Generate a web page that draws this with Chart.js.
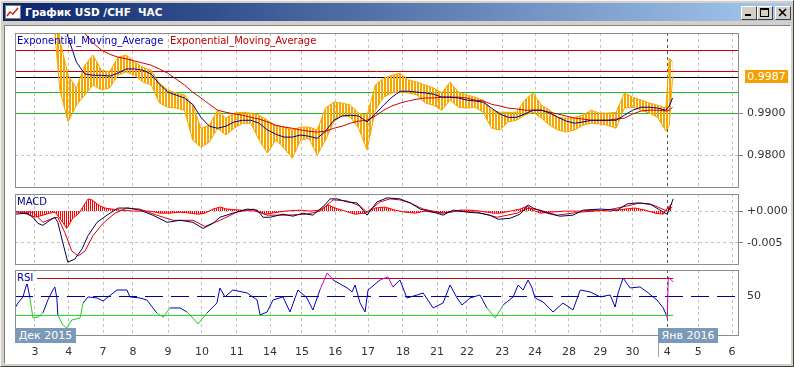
<!DOCTYPE html>
<html><head><meta charset="utf-8">
<script src="https://cdn.jsdelivr.net/npm/chart.js@4.4.1/dist/chart.umd.min.js"></script>
<style>
html,body{margin:0;padding:0}
body{width:794px;height:367px;position:relative;overflow:hidden;background:#d4d0c8;font-family:'DejaVu Sans',sans-serif}
.abs{position:absolute}
#frame{left:0;top:0;width:792px;height:365px;border:1px solid;border-color:#f4f4f4 #404040 #404040 #f4f4f4}
#titlebar{left:3px;top:3px;width:788px;height:18px;background:linear-gradient(to right,#0a246a,#a6caf0)}
#titletext{left:22px;top:3px;color:#fff;font-weight:bold;font-size:10.5px;line-height:12px;white-space:pre}
#client{left:4px;top:25px;width:785px;height:337px;background:#fff;border:1px solid;border-color:#808080 #fff #fff #808080}
canvas{position:absolute;left:0}
.lbl{position:absolute;font-size:10px;line-height:12px;white-space:pre}
.datebox{position:absolute;height:15px;line-height:15px;background:#7b99b9;color:#fff;font-size:11px;text-align:center}
.btn{position:absolute;top:6px;width:14px;height:12px;background:#d4d0c8;border:1px solid;border-color:#fff #404040 #404040 #fff}
</style></head>
<body>
<div id="frame" class="abs"></div>
<div id="titlebar" class="abs">
  <svg class="abs" style="left:2px;top:2px" width="16" height="14"><rect x="0.5" y="0.5" width="15" height="13" fill="#fff" stroke="#808080"/><polyline points="2,11 5,7 8,9 13,3" fill="none" stroke="#d02020" stroke-width="1.5"/></svg>
  <div id="titletext" class="abs">График USD /CHF  ЧАС</div>
</div>
<div class="btn" style="left:741px"><div class="abs" style="left:3px;top:7px;width:6px;height:2px;background:#000"></div></div>
<div class="btn" style="left:757px"><div class="abs" style="left:2px;top:1px;width:7px;height:6px;border:1px solid #000;border-top-width:2px"></div></div>
<div class="btn" style="left:775px"><svg class="abs" style="left:2px;top:1px" width="10" height="9"><path d="M1,1 L8,8 M8,1 L1,8" stroke="#000" stroke-width="1.6"/></svg></div>
<div id="client" class="abs"></div>

<canvas id="cPrice" width="794" height="155" style="top:33px"></canvas>
<canvas id="cMacd" width="794" height="71" style="top:194px"></canvas>
<canvas id="cRsi" width="794" height="92" style="top:270px"></canvas>

<div class="lbl" style="left:17px;top:35px;color:#0000c0">Exponential_Moving_Average</div>
<div class="lbl" style="left:170px;top:35px;color:#c00000">Exponential_Moving_Average</div>
<div class="lbl" style="left:17px;top:196px;color:#000080">MACD</div>
<div class="lbl" style="left:16px;top:272px;color:#0000a0;background:#fff;padding:0 4px 0 1px">RSI</div>
<div class="datebox" style="left:15px;top:328px;width:61px">Дек 2015</div>
<div class="datebox" style="left:658px;top:328px;width:60px">Янв 2016</div>
<div class="abs" style="left:658px;top:343px;width:1px;height:14px;background:#a0a0a0"></div>
<div id="priceLabel" class="abs" style="left:745px;top:70px;width:43px;height:13px;line-height:13px;background:#f5a000;color:#fff;font-size:11px;text-align:center"></div>

<script>
// ---------- axis data ----------
const dayTicks  = [0, 1.02, 2.05, 2.95, 4.01, 5.03, 6.08, 7.08, 8.04, 9.04, 10.03, 11.08, 12.11, 13.01, 14.07, 15.06, 16.08, 17.02, 17.99, 19.04, 19.97, 20.99];
const dayLabels = ['3','4','7','8','9','10','11','14','15','16','17','18','21','22','23','24','28','29','30','4','5','6'];
const markDay = 19.04;
const X_MIN = -0.6, X_MAX = 21.17;

const priceTicks = [0.9800, 0.9900];
const macdTicks = [0, -0.005];
const rsiTicks = [50];
const lastPrice = 0.9987;
const priceLevels = [1.0050, 1.0000, lastPrice, 0.9950, 0.9900];
const rsiHigh = 70, rsiMid = 50, rsiLow = 30;

// ---------- price (hourly bars summarised every 6h) ----------
const priceX = [-0.75,-0.5,-0.25,0,0.25,0.5,0.75,1,1.25,1.5,1.75,2,2.25,2.5,2.75,3,3.25,3.5,3.75,4,4.25,4.5,4.75,5,5.25,5.5,5.75,6,6.25,6.5,6.75,7,7.25,7.5,7.75,8,8.25,8.5,8.75,9,9.25,9.5,9.75,10,10.25,10.5,10.75,11,11.25,11.5,11.75,12,12.25,12.5,12.75,13,13.25,13.5,13.75,14,14.25,14.5,14.75,15,15.25,15.5,15.75,16,16.25,16.5,16.75,17,17.25,17.5,17.75,18,18.25,18.5,18.75,19,19.1,19.2];
const priceHigh = [1.0285,1.0290,1.0300,1.0295,1.0290,1.0280,1.0074,0.9990,0.9960,1.0014,
  1.0038,1.0002,0.9998,1.0033,1.0038,1.0021,1.0009,1.0002,0.9971,0.9955,
  0.9948,0.9943,0.9919,0.9864,0.9871,0.9907,0.9888,0.9900,0.9902,0.9900,
  0.9895,0.9883,0.9871,0.9867,0.9860,0.9867,0.9867,0.9860,0.9912,0.9926,
  0.9924,0.9919,0.9900,0.9895,0.9967,0.9983,0.9990,0.9995,0.9979,0.9974,
  0.9967,0.9960,0.9948,0.9974,0.9950,0.9943,0.9938,0.9931,0.9907,0.9902,
  0.9902,0.9902,0.9931,0.9948,0.9919,0.9907,0.9890,0.9888,0.9890,0.9895,
  0.9907,0.9900,0.9900,0.9902,0.9948,0.9938,0.9931,0.9924,0.9919,0.9912,
  1.0031,1.0021];
const priceLow = [1.0265,1.0270,1.0275,1.0270,1.0265,1.0180,0.9955,0.9879,0.9919,0.9943,
  0.9967,0.9955,0.9960,0.9990,0.9998,0.9990,0.9974,0.9967,0.9924,0.9914,
  0.9912,0.9907,0.9836,0.9819,0.9831,0.9864,0.9848,0.9864,0.9876,0.9876,
  0.9836,0.9805,0.9836,0.9817,0.9793,0.9836,0.9840,0.9800,0.9836,0.9879,
  0.9895,0.9890,0.9864,0.9812,0.9907,0.9938,0.9948,0.9950,0.9948,0.9943,
  0.9924,0.9919,0.9907,0.9931,0.9914,0.9912,0.9914,0.9902,0.9864,0.9860,
  0.9879,0.9883,0.9895,0.9902,0.9888,0.9871,0.9860,0.9855,0.9860,0.9871,
  0.9876,0.9874,0.9871,0.9864,0.9912,0.9914,0.9907,0.9900,0.9890,0.9857,
  0.9871,0.9986];
const emaFast = [1.0270,1.0272,1.0276,1.0278,1.0276,1.0245,1.0150,1.0080,1.0021,0.9993,
  0.9990,0.9990,0.9988,0.9995,1.0005,1.0005,1.0002,0.9993,0.9969,0.9950,
  0.9943,0.9936,0.9921,0.9890,0.9869,0.9864,0.9869,0.9879,0.9883,0.9883,
  0.9876,0.9860,0.9850,0.9843,0.9843,0.9848,0.9845,0.9840,0.9857,0.9883,
  0.9893,0.9895,0.9893,0.9879,0.9898,0.9919,0.9938,0.9952,0.9952,0.9950,
  0.9948,0.9945,0.9938,0.9938,0.9936,0.9931,0.9929,0.9926,0.9912,0.9898,
  0.9890,0.9890,0.9898,0.9907,0.9907,0.9900,0.9890,0.9881,0.9876,0.9879,
  0.9883,0.9883,0.9883,0.9883,0.9895,0.9907,0.9914,0.9914,0.9912,0.9907,
  0.9917,0.9936];
const emaSlow = [1.0265,1.0268,1.0270,1.0272,1.0270,1.0255,1.0200,1.0150,1.0115,1.0090,
  1.0067,1.0050,1.0040,1.0033,1.0029,1.0024,1.0019,1.0014,1.0005,0.9995,
  0.9981,0.9967,0.9950,0.9936,0.9921,0.9907,0.9902,0.9898,0.9895,0.9890,
  0.9886,0.9879,0.9871,0.9867,0.9864,0.9860,0.9857,0.9855,0.9857,0.9864,
  0.9869,0.9876,0.9881,0.9883,0.9893,0.9907,0.9917,0.9924,0.9929,0.9933,
  0.9936,0.9936,0.9938,0.9938,0.9938,0.9936,0.9931,0.9929,0.9921,0.9917,
  0.9912,0.9910,0.9907,0.9907,0.9907,0.9902,0.9898,0.9893,0.9888,0.9886,
  0.9883,0.9883,0.9883,0.9886,0.9888,0.9898,0.9905,0.9907,0.9907,0.9905,
  0.9907,0.9914];

// ---------- MACD ----------
const macdX = [-0.60,-0.24,-0.06,0.09,0.24,0.45,0.60,0.69,0.84,0.99,1.20,1.42,1.60,1.87,2.17,2.50,2.80,3.16,3.55,3.98,4.37,4.76,5.06,5.36,5.57,5.96,6.39,6.69,6.87,7.08,7.47,7.77,8.07,8.37,8.73,8.89,9.10,9.40,9.70,10.00,10.30,10.60,10.99,11.30,11.60,12.11,12.29,12.59,13.01,13.40,13.70,13.95,14.31,14.61,14.85,15.00,15.42,15.81,16.20,16.51,17.02,17.53,17.83,18.13,18.52,18.92,19.04,19.22];
const macdMain = [-0.00048,-0.00032,-0.00097,-0.00193,-0.00225,-0.00145,-0.00097,-0.00177,-0.00499,-0.00805,
  -0.00757,-0.00596,-0.00386,-0.00177,-0.00064,0.00048,0.00048,0.00016,-0.00064,-0.00177,
  -0.00145,-0.00177,-0.00274,-0.00193,-0.00097,-0.00032,0.00032,0.00016,-0.00097,-0.00097,
  -0.00048,-0.00080,-0.00032,-0.00064,0.00097,0.00193,0.00193,0.00145,0.00129,-0.00064,
  0.00145,0.00209,0.00193,0.00129,0.00032,-0.00032,-0.00064,0.00016,-0.00016,-0.00032,
  -0.00064,-0.00129,-0.00113,-0.00048,0.00097,0.00048,-0.00032,-0.00080,-0.00064,0.00016,
  0.00032,0.00016,0.00113,0.00129,0.00113,-0.00016,-0.00048,0.00193];
const sigX = [-0.60,-0.06,0.24,0.54,0.69,0.90,1.11,1.30,1.51,1.75,2.05,2.41,2.77,3.16,3.67,4.16,4.76,5.12,5.57,6.08,6.57,6.99,7.59,8.19,8.58,8.98,9.40,9.79,10.00,10.39,10.69,10.99,11.30,11.69,12.29,12.71,13.31,13.92,14.52,14.85,15.21,15.72,16.42,17.23,17.83,18.22,18.61,19.04,19.19];
const sigVals = [-0.00016,-0.00016,-0.00177,-0.00113,-0.00097,-0.00338,-0.00628,-0.00708,-0.00628,-0.00386,
  -0.00193,-0.00032,0.00048,0.00032,-0.00064,-0.00145,-0.00145,-0.00242,-0.00145,-0.00016,
  0.00032,-0.00064,-0.00064,-0.00048,0,0.00177,0.00161,0.00080,-0.00016,0.00145,
  0.00193,0.00177,0.00129,0.00032,-0.00032,0,-0.00016,-0.00097,-0.00032,0.00048,
  0.00016,-0.00064,-0.00016,0.00016,0.00080,0.00129,0.00097,0,0.00064];
const histX = [-0.60,-0.24,0.00,0.24,0.45,0.60,0.75,0.96,1.14,1.33,1.48,1.60,1.72,1.84,1.96,2.11,2.32,2.56,3.01,3.46,3.77,4.07,4.37,4.67,4.91,5.12,5.36,5.57,5.78,6.17,6.63,6.93,7.14,7.53,7.98,8.28,8.58,8.83,9.04,9.34,9.64,9.94,10.24,10.54,10.84,11.14,11.45,11.75,12.20,12.50,12.80,13.10,13.40,13.80,14.01,14.31,14.61,14.82,15.00,15.21,15.51,15.96,16.42,16.87,17.32,17.77,18.07,18.37,18.67,18.92,19.07,19.19];
const histVals = [0,-0.00048,-0.00096,-0.00064,-0.00032,-0.00016,-0.00112,-0.00272,-0.00112,-0.00032,
  0.00096,0.00192,0.00176,0.00128,0.00080,0.00048,0.00032,0.00016,0,0,
  -0.00032,-0.00032,-0.00016,-0.00032,-0.00048,-0.00032,0.00032,0.00064,0.00032,0.00016,
  0,-0.00048,-0.00032,0,0.00016,0,0.00016,0.00096,0.00048,0,
  -0.00048,-0.00032,0.00048,0.00064,0.00016,-0.00016,-0.00032,0,-0.00032,-0.00016,
  0.00016,0.00016,0,-0.00032,-0.00032,0,0.00032,0.00080,0.00016,-0.00032,
  -0.00016,0,0,0.00016,0,0.00032,0.00048,0.00016,-0.00032,-0.00048,
  0.00064,0.00112];

// ---------- RSI ----------
const rsiX = [-0.60,-0.51,-0.36,-0.24,-0.15,-0.06,0.09,0.24,0.39,0.54,0.60,0.66,0.69,0.84,0.96,1.11,1.36,1.45,1.60,1.87,2.05,2.47,2.77,2.86,3.16,3.37,3.67,3.86,4.07,4.37,4.58,4.73,4.91,5.18,5.48,5.57,5.72,5.96,6.39,6.69,6.78,6.99,7.17,7.47,7.68,7.92,8.19,8.37,8.58,8.80,8.98,9.40,9.55,9.64,9.79,9.94,10.03,10.39,10.63,10.78,10.99,11.20,11.51,11.69,11.99,12.29,12.50,12.71,12.86,13.10,13.40,13.61,13.86,14.10,14.40,14.55,14.70,14.85,14.97,15.06,15.30,15.60,15.90,16.20,16.42,16.72,17.02,17.32,17.47,17.56,17.71,17.92,18.22,18.43,18.73,18.92,19.01,19.04,19.07,19.22];
const rsiVals = [37.6,43.0,49.5,64.6,48.4,26.8,27.8,32.2,46.2,57.0,
  60.3,48.4,30.0,19.2,15.9,24.6,26.8,43.0,49.5,48.4,
  45.1,57.0,57.0,49.5,48.4,46.2,32.2,27.8,37.6,37.6,
  33.2,27.8,20.3,32.2,43.0,59.2,49.5,57.0,53.8,46.2,
  30.0,33.2,46.2,49.5,33.2,57.0,48.4,35.4,57.0,75.4,
  67.8,59.2,54.9,62.4,43.0,33.2,57.0,67.8,71.1,60.3,
  67.8,48.4,51.6,53.8,37.6,43.0,62.4,48.4,40.8,48.4,
  51.6,37.6,26.8,40.8,49.5,62.4,57.0,67.8,59.2,48.4,
  44.1,33.2,43.0,35.4,57.0,54.9,49.5,51.6,38.6,53.8,
  70.0,59.2,60.3,54.9,46.2,37.6,30.0,26.8,71.1,65.7];

// ---------- helpers ----------
const pts = (xs, ys) => xs.map((x, i) => ({ x: x, y: ys[i] }));
Chart.defaults.font.family = "'DejaVu Sans', sans-serif";
Chart.defaults.font.size = 11;
Chart.defaults.color = '#333';

function stripePattern(canvas, color, period, on) {
  const pc = document.createElement('canvas'); pc.width = period; pc.height = 1;
  const p = pc.getContext('2d'); p.fillStyle = color; p.fillRect(0, 0, on, 1);
  return canvas.getContext('2d').createPattern(pc, 'repeat');
}

const levelPlugin = {
  id: 'levels',
  beforeDatasetsDraw(chart, args, opts) {
    const lines = opts && opts.lines;
    if (!lines) return;
    const { ctx, chartArea: a, scales } = chart;
    ctx.save();
    ctx.beginPath(); ctx.rect(a.left, a.top, a.right - a.left, a.bottom - a.top); ctx.clip();
    lines.forEach(l => {
      const y = Math.round(scales.y.getPixelForValue(l.value)) + 0.5;
      const x2 = (l.toX !== undefined) ? scales.x.getPixelForValue(l.toX) : a.right;
      ctx.strokeStyle = l.color; ctx.lineWidth = 1; ctx.setLineDash(l.dash || []);
      ctx.beginPath(); ctx.moveTo(a.left, y); ctx.lineTo(x2, y); ctx.stroke();
    });
    ctx.restore();
  }
};
const framePlugin = {
  id: 'frame',
  afterDraw(chart) {
    const { ctx, chartArea: a } = chart;
    ctx.save(); ctx.strokeStyle = '#8c8c8c'; ctx.lineWidth = 1; ctx.setLineDash([]);
    ctx.strokeRect(a.left + 0.5, a.top + 0.5, a.right - a.left, a.bottom - a.top - 1);
    ctx.restore();
  }
};
Chart.register(levelPlugin, framePlugin);

function xAxis(showLabels) {
  return {
    type: 'linear', min: X_MIN, max: X_MAX,
    afterBuildTicks: s => { s.ticks = dayTicks.map(v => ({ value: v })); },
    ticks: { display: showLabels, autoSkip: false, maxRotation: 0, padding: 10, color: '#333',
             callback: (v, i) => dayLabels[i] },
    grid: { color: c => (c.tick && c.tick.value === markDay) ? '#555' : '#c4c4c4', drawTicks: false },
    border: { display: false, dash: [3, 3] },
    afterFit: s => { s.height = showLabels ? 26 : 0; s.paddingLeft = 0; s.paddingRight = 0; }
  };
}
function yAxis(min, max, tickVals, fmt, gridOn) {
  return {
    position: 'right', min: min, max: max,
    afterBuildTicks: s => { s.ticks = tickVals.map(v => ({ value: v })); },
    ticks: { callback: fmt, color: '#333', padding: 4, autoSkip: false },
    grid: { color: gridOn ? '#c4c4c4' : 'rgba(0,0,0,0)', tickColor: gridOn ? '#808080' : 'rgba(0,0,0,0)',
            tickLength: 5, drawTicks: true, tickBorderDash: [] },
    border: { display: false, dash: [3, 3] },
    afterFit: s => { s.width = 56; s.paddingTop = 0; s.paddingBottom = 0; }
  };
}
function baseOptions(scales, levels) {
  return {
    responsive: false, animation: false, devicePixelRatio: 1,
    layout: { padding: { left: 15, right: 0, top: 0, bottom: 0 } },
    elements: { point: { radius: 0 }, line: { tension: 0, borderWidth: 1 } },
    plugins: { legend: { display: false }, tooltip: { enabled: false }, levels: levels },
    scales: scales
  };
}

// ---------- price chart (first dataset is drawn on top) ----------
const ORANGE = '#f7a600';
const pcv = document.getElementById('cPrice');
const priceChart = new Chart(pcv, {
  type: 'line',
  data: { datasets: [
    { data: pts(priceX, emaFast), borderColor: '#00008c', fill: false },
    { data: pts(priceX, emaSlow), borderColor: '#d00000', fill: false },
    { data: pts(priceX, priceHigh), borderColor: ORANGE, backgroundColor: stripePattern(pcv, ORANGE, 3, 2), fill: '+1' },
    { data: pts(priceX, priceLow), borderColor: ORANGE, fill: false }
  ]},
  options: baseOptions(
    { x: xAxis(false), y: yAxis(0.9722, 1.00905, priceTicks, v => v.toFixed(4), true) },
    { lines: [
      { value: priceLevels[0], color: '#c80000' },
      { value: priceLevels[1], color: '#c80000' },
      { value: priceLevels[2], color: '#000000' },
      { value: priceLevels[3], color: '#22bb22' },
      { value: priceLevels[4], color: '#22bb22' }
    ] })
});
const lbl = document.getElementById('priceLabel');
lbl.textContent = lastPrice.toFixed(4);
lbl.style.top = (33 + priceChart.scales.y.getPixelForValue(lastPrice) - 6.5) + 'px';

// ---------- MACD chart ----------
const mc = document.getElementById('cMacd');
new Chart(mc, {
  type: 'line',
  data: { datasets: [
    { data: pts(macdX, macdMain), borderColor: '#000050', fill: false },
    { data: pts(sigX, sigVals), borderColor: '#e00000', fill: false },
    { data: pts(histX, histVals), borderColor: '#ff0000', backgroundColor: stripePattern(mc, '#ff0000', 2, 1), fill: 'origin' }
  ]},
  options: baseOptions(
    { x: xAxis(false), y: yAxis(-0.0085, 0.0027, macdTicks, v => (v >= 0 ? '+' : '-') + Math.abs(v).toFixed(3), true) },
    { lines: [] })
});

// ---------- RSI chart ----------
const lastRsiX = rsiX[rsiX.length - 1];
new Chart(document.getElementById('cRsi'), {
  type: 'line',
  data: { datasets: [
    { data: pts(rsiX, rsiVals), borderColor: '#0000c0', fill: false,
      segment: { borderColor: c => {
        const a = c.p0.parsed.y, b = c.p1.parsed.y;
        if (Math.max(a, b) > rsiHigh) return '#d000d0';
        if (Math.min(a, b) < rsiLow) return '#22cc22';
        return '#0000c0';
      } } }
  ]},
  options: baseOptions(
    { x: xAxis(true), y: yAxis(7.3, 78.6, rsiTicks, v => String(v), false) },
    { lines: [
      { value: rsiHigh, color: '#b01010', toX: lastRsiX },
      { value: rsiLow, color: '#22dd22', toX: lastRsiX },
      { value: rsiMid, color: '#000090', dash: [18, 8] }
    ] })
});
</script>
</body></html>
